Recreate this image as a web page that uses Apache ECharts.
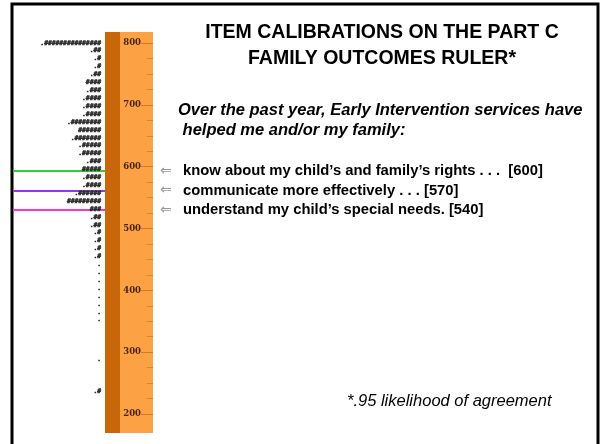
<!DOCTYPE html>
<html>
<head>
<meta charset="utf-8">
<script src="https://cdn.jsdelivr.net/npm/echarts@6/dist/echarts.min.js"></script>
</head>
<body style="margin:0;background:#fff">
<div id="main" style="width:602px;height:444px;"></div>
<script>
// person map rows, top (high measure) to bottom, one text row per band
var personRows = [
	'.###############', '.##', '.#', '.#', '.##', '####', '.###', '.####',
	'.####', '.####', '.########', '######', '.#######', '.#####', '.#####', '.###',
	'#####', '.####', '.####', '.######', '#########', '###', '.##', '.##',
	'.#', '.#', '.#', '.#', '.', '.', '.', '.',
	'.', '.', '.', '.', '', '', '', '',
	'.', '', '', '', '.#'
];
// ruler scale
var rulerMin = 200;
var rulerMax = 800;
var rulerStep = 100;
// items and their calibrations
var itemNames = [
	'know about my child\u2019s and family\u2019s rights . . .  [600]',
	'communicate more effectively . . . [570]',
	'understand my child\u2019s special needs. [540]'
];
var itemValues = [600, 570, 540];

var itemColors = ['#33cc33', '#9933ee', '#ff33cc'];
var itemAxis = {min: 197, max: 814};

var myChart = echarts.init(document.getElementById('main'));

function hiddenX(i) {
	return {type: 'value', gridIndex: i, min: 0, max: 1, show: false};
}
function hiddenY(i) {
	return {type: 'value', gridIndex: i, min: itemAxis.min, max: itemAxis.max, show: false};
}

var option = {
	animation: false,
	title: [{
		text: 'ITEM CALIBRATIONS ON THE PART C\nFAMILY OUTCOMES RULER*',
		left: 382, top: 20, textAlign: 'center', padding: 0,
		textStyle: {fontFamily: 'Liberation Sans', fontSize: 19.5, fontWeight: 'bold', lineHeight: 26, color: '#000'}
	}, {
		text: 'Over the past year, Early Intervention services have\n helped me and/or my family:',
		left: 178, top: 100, padding: 0,
		textStyle: {fontFamily: 'Liberation Sans', fontSize: 16.5, fontWeight: 'bold', fontStyle: 'italic', lineHeight: 20, color: '#000'}
	}, {
		text: '*.95 likelihood of agreement',
		left: 347, top: 393, padding: 0,
		textStyle: {fontFamily: 'Liberation Sans', fontSize: 16.5, fontWeight: 'normal', fontStyle: 'italic', color: '#000'}
	}],
	graphic: [
		{type: 'rect', shape: {x: 12, y: 4, width: 586, height: 470}, style: {fill: 'none', stroke: '#000', lineWidth: 3}},
		{type: 'rect', shape: {x: 105, y: 32, width: 48, height: 401}, style: {fill: '#fca244'}},
		{type: 'rect', shape: {x: 105, y: 32, width: 15, height: 401}, style: {fill: '#c8670a'}}
	],
	grid: [
		{left: 105, top: 43, width: 48, height: 371},
		{left: 104, top: 39, width: 1, height: 356},
		{left: 13, top: 32, width: 92, height: 401},
		{left: 160, top: 32, width: 430, height: 401}
	],
	xAxis: [hiddenX(0), hiddenX(1), hiddenX(2), hiddenX(3)],
	yAxis: [{
		type: 'value', gridIndex: 0, position: 'right', z: 5,
		min: rulerMin, max: rulerMax, interval: rulerStep,
		axisLine: {show: false, onZero: false},
		splitLine: {show: false},
		axisTick: {inside: true, length: 12, lineStyle: {color: '#cf7a25', width: 1}},
		minorTick: {show: true, splitNumber: 4, length: 6, lineStyle: {color: '#d8842f', width: 1}},
		axisLabel: {inside: true, margin: 12, fontFamily: 'DejaVu Serif', fontWeight: 'bold', fontSize: 8.5, color: '#4a240a'}
	}, {
		type: 'category', gridIndex: 1, inverse: true, z: 5,
		data: personRows,
		axisLine: {show: false, onZero: false},
		axisTick: {show: false},
		axisLabel: {
			interval: 0, margin: 3, fontFamily: 'DejaVu Sans Mono', fontWeight: 'bold', fontSize: 6.3,
			color: '#222', textBorderColor: '#444', textBorderWidth: 0.5
		}
	}, hiddenY(2), hiddenY(3)],
	series: [{
		type: 'scatter', xAxisIndex: 2, yAxisIndex: 2, symbolSize: 0, silent: true,
		data: itemValues.map(function (v) { return [0, v]; }),
		markLine: {
			silent: true, symbol: 'none', label: {show: false},
			data: itemValues.map(function (v, i) {
				return {yAxis: v, lineStyle: {color: itemColors[i], width: 2, type: 'solid', opacity: 1}};
			})
		}
	}, {
		type: 'scatter', xAxisIndex: 3, yAxisIndex: 3, symbolSize: 0, silent: true,
		itemStyle: {opacity: 1},
		data: itemValues.map(function (v, i) { return {value: [0, v], name: itemNames[i]}; }),
		label: {
			show: true, position: 'right', distance: 0,
			formatter: function (p) { return '{a|\u21d0}{t|' + p.name + '}'; },
			rich: {
				a: {fontFamily: 'DejaVu Sans', fontSize: 14, color: '#999', width: 23},
				t: {fontFamily: 'Liberation Sans', fontSize: 14.8, fontWeight: 'bold', color: '#000'}
			}
		}
	}]
};
myChart.setOption(option);
</script>
</body>
</html>
